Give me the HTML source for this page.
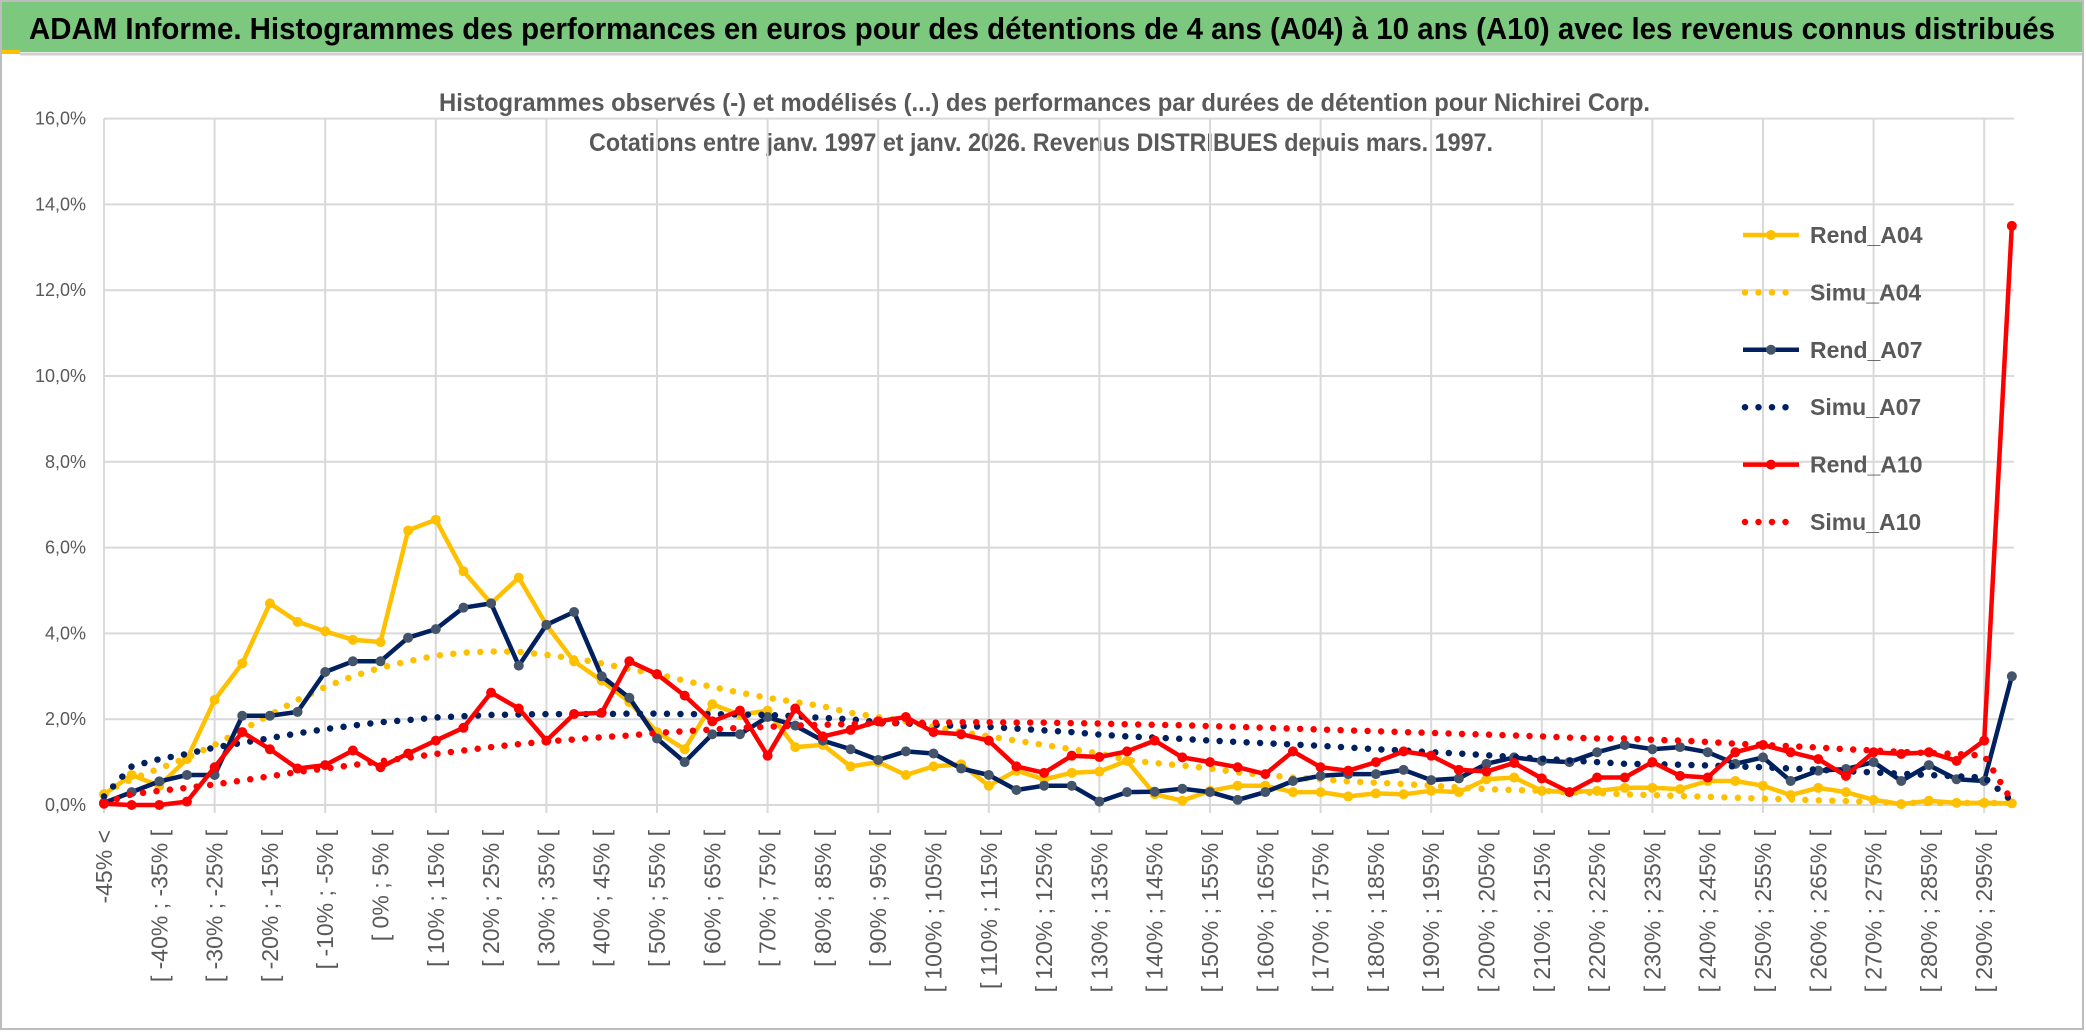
<!DOCTYPE html>
<html><head><meta charset="utf-8"><style>
html,body{margin:0;padding:0;background:#fff;}
svg{display:block;}
text{font-family:"Liberation Sans Narrow","Liberation Sans",sans-serif;}
</style></head><body>
<svg id="chart" width="2086" height="1033" viewBox="0 0 2086 1033" xmlns="http://www.w3.org/2000/svg">
<rect x="0" y="0" width="2086" height="1033" fill="#fff"/>
<rect x="1" y="1" width="2082" height="1028" fill="none" stroke="#bdbdbd" stroke-width="2"/>
<rect x="2" y="2" width="2080" height="50" fill="#7dc87f"/>
<rect x="2" y="50" width="18" height="4" fill="#ffc000"/>
<line x1="20" y1="54" x2="2082" y2="54" stroke="#d0d0d0" stroke-width="3"/>
<text x="29" y="39" font-size="31" font-weight="bold" fill="#000" textLength="2026" lengthAdjust="spacingAndGlyphs">ADAM Informe. Histogrammes des performances en euros pour des détentions de 4 ans (A04) à 10 ans (A10) avec les revenus connus distribués</text>
<text x="439" y="111" font-size="25" font-weight="bold" fill="#595959" textLength="1211" lengthAdjust="spacingAndGlyphs">Histogrammes observés (-) et modélisés (...) des performances par durées de détention pour Nichirei Corp.</text>
<text x="589" y="151" font-size="25" font-weight="bold" fill="#595959" textLength="904" lengthAdjust="spacingAndGlyphs">Cotations entre janv. 1997 et janv. 2026. Revenus DISTRIBUES depuis mars. 1997.</text>
<g id="grid"></g><g id="axes"></g><g id="series"></g><g id="legend"></g>
</svg>
<script>
const categories = ["-45% <"];
for (let k = -45; k < 300; k += 5) categories.push("[ " + k + "% ; " + (k + 5) + "% [");
const yTicks = [0, 2, 4, 6, 8, 10, 12, 14, 16];
const yTickLabels = ["0,0%", "2,0%", "4,0%", "6,0%", "8,0%", "10,0%", "12,0%", "14,0%", "16,0%"];
const rendA04 = [0.25,0.7,0.45,1.07,2.45,3.3,4.7,4.27,4.05,3.85,3.8,6.4,6.65,5.45,4.7,5.3,4.2,3.35,2.9,
2.4,1.7,1.3,2.35,2.1,2.2,1.35,1.4,0.9,1.0,0.7,0.9,0.95,0.45,0.8,0.6,0.75,0.78,
1.03,0.25,0.1,0.33,0.45,0.45,0.3,0.3,0.2,0.27,0.25,0.33,0.3,0.6,0.64,0.33,0.3,0.33,
0.4,0.4,0.37,0.56,0.56,0.45,0.23,0.4,0.3,0.12,0.02,0.1,0.05,0.05,0.04];
const simuA04 = [0.3,0.6,0.85,1.1,1.4,1.75,2.1,2.45,2.75,3.0,3.2,3.35,3.48,3.55,3.58,3.57,3.5,3.42,3.3,
3.17,3.05,2.9,2.75,2.62,2.5,2.4,2.3,2.15,2.05,1.95,1.82,1.7,1.6,1.5,1.4,1.3,1.2,
1.05,0.98,0.92,0.85,0.76,0.7,0.64,0.6,0.55,0.52,0.49,0.45,0.41,0.37,0.35,0.33,0.3,0.28,
0.25,0.23,0.21,0.19,0.17,0.15,0.13,0.11,0.09,0.07,0.05,0.05,0.05,0.05,0.05];
const rendA07 = [0.05,0.3,0.55,0.7,0.7,2.08,2.08,2.17,3.1,3.35,3.35,3.9,4.1,4.6,4.7,3.25,4.2,4.5,3.0,
2.5,1.55,1.0,1.65,1.65,2.05,1.85,1.5,1.3,1.05,1.25,1.2,0.85,0.7,0.35,0.45,0.45,0.08,
0.3,0.31,0.38,0.3,0.12,0.3,0.56,0.68,0.72,0.72,0.82,0.58,0.62,0.96,1.11,1.03,1.0,1.23,
1.4,1.3,1.35,1.23,0.96,1.11,0.56,0.8,0.84,1.0,0.56,0.93,0.6,0.56,3.0];
const simuA07 = [0.2,0.9,1.07,1.19,1.34,1.45,1.56,1.67,1.77,1.85,1.93,1.98,2.04,2.07,2.1,2.11,2.12,2.12,2.12,
2.13,2.13,2.12,2.12,2.11,2.1,2.07,2.03,2.0,1.93,1.9,1.87,1.84,1.82,1.78,1.74,1.7,1.64,
1.6,1.57,1.54,1.5,1.47,1.44,1.41,1.38,1.34,1.3,1.27,1.23,1.2,1.16,1.12,1.08,1.04,1.0,
0.96,0.95,0.94,0.92,0.9,0.88,0.85,0.82,0.79,0.76,0.73,0.7,0.67,0.64,0.1];
const rendA10 = [0.03,0.0,0.0,0.08,0.88,1.7,1.3,0.85,0.93,1.27,0.88,1.2,1.5,1.8,2.62,2.25,1.5,2.12,2.15,
3.35,3.05,2.55,1.95,2.2,1.15,2.25,1.6,1.75,1.95,2.05,1.7,1.65,1.5,0.9,0.75,1.15,1.12,
1.25,1.5,1.11,1.0,0.88,0.72,1.25,0.88,0.8,1.0,1.25,1.15,0.82,0.78,0.98,0.62,0.3,0.64,
0.64,1.0,0.68,0.64,1.23,1.4,1.23,1.07,0.68,1.23,1.19,1.23,1.03,1.5,13.5];
const simuA10 = [0.05,0.25,0.33,0.4,0.48,0.57,0.67,0.77,0.85,0.93,1.02,1.1,1.19,1.27,1.35,1.42,1.48,1.53,1.58,
1.62,1.68,1.72,1.76,1.8,1.82,1.85,1.87,1.89,1.9,1.91,1.92,1.93,1.93,1.92,1.92,1.91,1.9,
1.88,1.87,1.86,1.84,1.82,1.8,1.78,1.76,1.74,1.72,1.7,1.68,1.66,1.64,1.62,1.6,1.57,1.55,
1.55,1.52,1.5,1.47,1.43,1.4,1.37,1.34,1.3,1.27,1.24,1.21,1.19,1.15,0.1];
const seriesNames = ["Rend_A04","Simu_A04","Rend_A07","Simu_A07","Rend_A10","Simu_A10"];

const NS = "http://www.w3.org/2000/svg";
const X0 = 104, DX = 27.65, Y0 = 805, PXPCT = 42.9;
function xPos(i){ return X0 + i * DX; }
function yPos(v){ return Y0 - v * PXPCT; }
function mk(tag, attrs, parent){ const e = document.createElementNS(NS, tag); for (const k in attrs) e.setAttribute(k, attrs[k]); parent.appendChild(e); return e; }

const grid = document.getElementById("grid");
const axes = document.getElementById("axes");
const xEnd = 2014;
yTicks.forEach((t, k) => {
  const l = mk("line", {x1: X0, x2: xEnd, y1: yPos(t), y2: yPos(t), stroke: "#d9d9d9", "stroke-width": 2}, grid);
  
  
  const tx = mk("text", {x: 86, y: yPos(t) + 6, "text-anchor": "end", "font-size": 18, fill: "#595959"}, axes);
  tx.textContent = yTickLabels[k];
  
  
});
for (let i = 0; i < categories.length; i += 4) {
  const l = mk("line", {x1: xPos(i), x2: xPos(i), y1: yPos(16), y2: Y0 + 8, stroke: "#d9d9d9", "stroke-width": 2}, grid);
  
  
}
for (let i = 0; i < categories.length; i += 2) {
  const x = xPos(i) + 8, y = 830;
  const tx = mk("text", {x: x, y: y, "text-anchor": "end", "font-size": 23, fill: "#595959", transform: "rotate(-90 " + x + " " + y + ")"}, axes);
  tx.textContent = categories[i];
  
  
}

const seriesG = document.getElementById("series");
function pts(arr){ return arr.map((v, i) => xPos(i).toFixed(1) + "," + yPos(v).toFixed(1)).join(" "); }
function solid(arr, color, mcolor, name){
  const g = mk("g", {}, seriesG);
  
  
  mk("polyline", {points: pts(arr), fill: "none", stroke: color, "stroke-width": 4.5, "stroke-linejoin": "round"}, g);
  arr.forEach((v, i) => {
    const c = mk("circle", {cx: xPos(i), cy: yPos(v), r: 5, fill: mcolor}, g);
    
    
  });
}
function dotted(arr, color, name){
  const p = mk("polyline", {points: pts(arr), fill: "none", stroke: color, "stroke-width": 6.5, "stroke-linecap": "round", "stroke-dasharray": "0 13.5"}, seriesG);
  
  
}
solid(rendA04, "#ffc000", "#ffc000", "series-rend-a04");
dotted(simuA04, "#ffc000", "series-simu-a04");
solid(rendA07, "#002060", "#44546a", "series-rend-a07");
dotted(simuA07, "#002060", "series-simu-a07");
solid(rendA10, "#ff0000", "#ff0000", "series-rend-a10");
dotted(simuA10, "#ff0000", "series-simu-a10");

const legend = document.getElementById("legend");
const legColors = ["#ffc000","#ffc000","#002060","#002060","#ff0000","#ff0000"];
const legMarkers = ["#ffc000",null,"#44546a",null,"#ff0000",null];
seriesNames.forEach((n, k) => {
  const y = 235 + k * 57.4;
  const g = mk("g", {}, legend);
  
  
  if (legMarkers[k]) {
    mk("line", {x1: 1743, x2: 1799, y1: y, y2: y, stroke: legColors[k], "stroke-width": 4.5}, g);
    mk("circle", {cx: 1771, cy: y, r: 5, fill: legMarkers[k]}, g);
  } else {
    mk("line", {x1: 1745, x2: 1799, y1: y, y2: y, stroke: legColors[k], "stroke-width": 6.5, "stroke-linecap": "round", "stroke-dasharray": "0 13.5"}, g);
  }
  const t = mk("text", {x: 1810, y: y + 8, "font-size": 23, "font-weight": "bold", fill: "#595959"}, g);
  t.textContent = n;
});
</script>
</body></html>
